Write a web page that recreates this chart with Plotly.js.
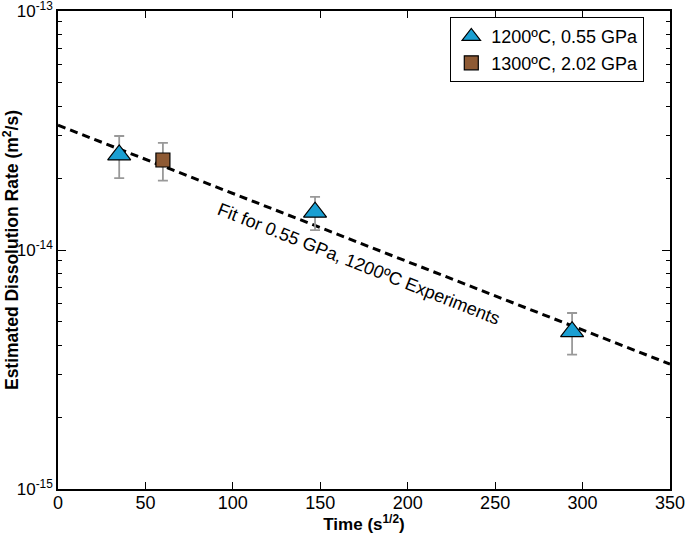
<!DOCTYPE html>
<html>
<head>
<meta charset="utf-8">
<script src="https://cdn.plot.ly/plotly-3.0.1.min.js"></script>
<style>
  body { margin: 0; background: #fff; }
  #plot { width: 685px; height: 534px; }
</style>
</head>
<body>
<div id="plot"></div>
<script>
// data
var lowTime = [35, 147, 294];
var lowRate = [2.5e-14, 1.44e-14, 4.55e-15];
var lowErr = [0.5e-14, 0.23e-14, 0.9e-15];

var highTime = [60];
var highRate = [2.38e-14];
var highErr = [0.43e-14];

var fitTime = [0, 350];
var fitRate = [3.33e-14, 3.33e-15];

var yTickVals = [1e-15, 1e-14, 1e-13];
var yTickText = ['10<sup>-15</sup>', '10<sup>-14</sup>', '10<sup>-13</sup>'];

var fit = {
  x: fitTime, y: fitRate,
  mode: 'lines',
  line: {color: 'black', width: 3, dash: '8px,5px'},
  showlegend: false,
  hoverinfo: 'skip'
};

var low = {
  x: lowTime, y: lowRate,
  name: '1200ºC, 0.55 GPa',
  mode: 'markers',
  marker: {symbol: 'triangle-up', size: 20, color: '#1a9fd2', line: {color: 'black', width: 1.2}},
  error_y: {type: 'data', array: lowErr, color: '#999999', thickness: 1.8, width: 5}
};

var high = {
  x: highTime, y: highRate,
  name: '1300ºC, 2.02 GPa',
  mode: 'markers',
  marker: {symbol: 'square', size: 14, color: '#8e5a34', line: {color: 'black', width: 1.2}},
  error_y: {type: 'data', array: highErr, color: '#999999', thickness: 1.8, width: 5}
};

var layout = {
  width: 685,
  height: 534,
  margin: {l: 58, r: 15, t: 11, b: 45},
  paper_bgcolor: 'white',
  plot_bgcolor: 'white',
  font: {family: 'Liberation Sans, Arial, sans-serif', size: 18, color: 'black'},
  showlegend: true,
  legend: {
    x: 0.641, y: 0.987, xanchor: 'left', yanchor: 'top',
    bordercolor: 'black', borderwidth: 1, bgcolor: 'white',
    font: {size: 18}, tracegroupgap: 0, itemwidth: 30
  },
  xaxis: {
    range: [0, 350], dtick: 50, autorange: false,
    showgrid: false, zeroline: false,
    showline: true, linecolor: 'black', linewidth: 1.5, mirror: 'ticks',
    ticks: 'inside', ticklen: 7, tickwidth: 1.2, tickcolor: 'black',
    tickfont: {size: 18}, ticklabeloverflow: 'allow', ticklabelstandoff: -3,
    title: {text: '<b>Time (s<sup>1/2</sup>)</b>', font: {size: 17}, standoff: 5}
  },
  yaxis: {
    type: 'log', range: [-15.0002, -12.9998], autorange: false,
    showgrid: false, zeroline: false,
    showline: true, linecolor: 'black', linewidth: 1.5, mirror: 'ticks',
    ticks: 'inside', ticklen: 8, tickwidth: 1.2, tickcolor: 'black',
    tickmode: 'array', tickvals: yTickVals, ticktext: yTickText,
    tickfont: {size: 17}, ticklabeloverflow: 'allow',
    minor: {ticks: 'inside', ticklen: 4, tickwidth: 1, tickcolor: 'black', dtick: 'D1', showgrid: false},
    title: {text: '<b>Estimated Dissolution Rate (m<sup>2</sup>/s)</b>', font: {size: 17.5}, standoff: 0}
  },
  annotations: [{
    xref: 'x', yref: 'paper',
    x: 172, y: 0.471,
    text: 'Fit for 0.55 GPa, 1200ºC Experiments',
    textangle: 21.6,
    showarrow: false,
    font: {size: 18, color: 'black'}
  }]
};

Plotly.newPlot('plot', [fit, low, high], layout, {displayModeBar: false});
</script>
</body>
</html>
